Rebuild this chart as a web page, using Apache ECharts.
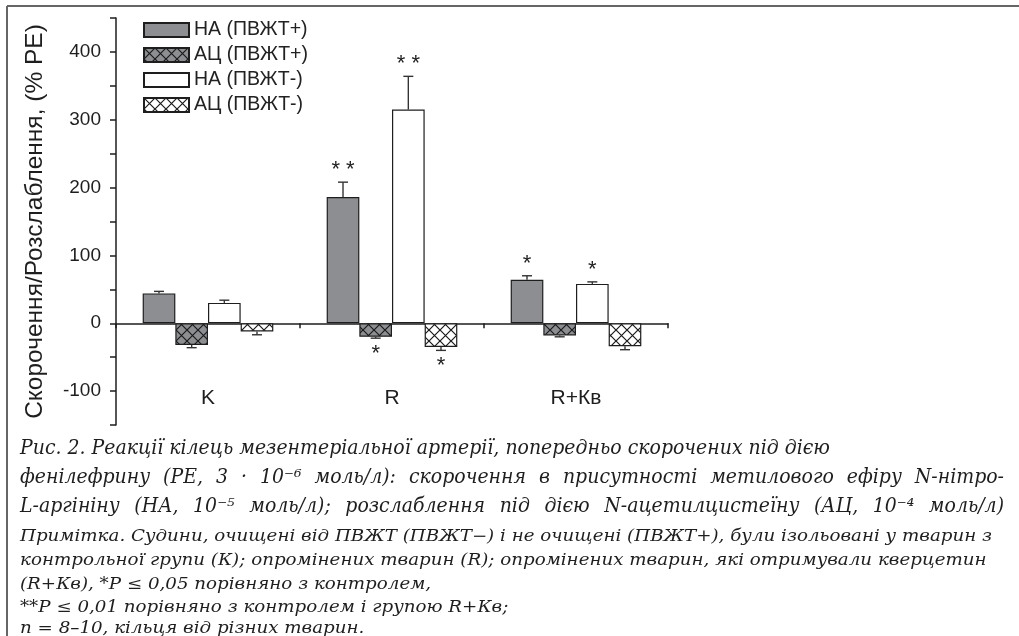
<!DOCTYPE html>
<html><head><meta charset="utf-8">
<script src="https://cdn.jsdelivr.net/npm/echarts@6/dist/echarts.min.js"></script>
<style>html,body{margin:0;padding:0;background:#fff}#c{width:1019px;height:636px}</style>
</head><body><div id="c"></div>
<script>
// ---- data ----
const categories = ['K', 'R', 'R+Кв'];
const seriesNames = ['НА (ПВЖТ+)', 'АЦ (ПВЖТ+)', 'НА (ПВЖТ-)', 'АЦ (ПВЖТ-)'];
const naPlus = [44, 186, 64];
const acPlus = [-32, -20, -18];
const naMinus = [30, 315, 58];
const acMinus = [-12, -35, -34];
const naPlusErr = [3, 22, 6];
const acPlusErr = [4, 2, 2];
const naMinusErr = [4, 49, 3];
const acMinusErr = [5, 5, 5];
const naPlusSig = ['', '**', '*'];
const acPlusSig = ['', '*', ''];
const naMinusSig = ['', '**', '*'];
const acMinusSig = ['', '*', ''];
const yTickLabels = [-100, 0, 100, 200, 300, 400];
const yAxisTitle = 'Скорочення/Розслаблення, (% PE)';
const captionMain = [
  'Рис. 2. Реакції кілець мезентеріальної артерії, попередньо скорочених під дією',
  'фенілефрину (PE, 3 · 10⁻⁶ моль/л): скорочення в присутності метилового ефіру N-нітро-',
  'L-аргініну (НА, 10⁻⁵ моль/л); розслаблення під дією N-ацетилцистеїну (АЦ, 10⁻⁴ моль/л)'
];
const captionNote = [
  'Примітка. Судини, очищені від ПВЖТ (ПВЖТ−) і не очищені (ПВЖТ+), були ізольовані у тварин з',
  'контрольної групи (К); опромінених тварин (R); опромінених тварин, які отримували кверцетин',
  '(R+Кв), *P ≤ 0,05 порівняно з контролем,',
  '**P ≤ 0,01 порівняно з контролем і групою R+Кв;',
  'n = 8–10, кільця від різних тварин.'
];

const values = [naPlus, acPlus, naMinus, acMinus];
const errs = [naPlusErr, acPlusErr, naMinusErr, acMinusErr];
const sigs = [naPlusSig, acPlusSig, naMinusSig, acMinusSig];

// ---- styles ----
const SANS = 'Liberation Sans';
const SERIF = 'DejaVu Serif';
const GAP = 0.29;
function hatch(bg) {
  const s = 11, c = document.createElement('canvas');
  c.width = c.height = s;
  const g = c.getContext('2d');
  g.fillStyle = bg; g.fillRect(0, 0, s, s);
  g.strokeStyle = '#1a1a1a'; g.lineWidth = 1.2;
  g.beginPath();
  g.moveTo(-1, -1); g.lineTo(s + 1, s + 1);
  g.moveTo(s + 1, -1); g.lineTo(-1, s + 1);
  g.stroke();
  return c;
}
const fills = [
  '#8d8e91',
  { image: hatch('#8d8e91'), repeat: 'repeat' },
  '#ffffff',
  { image: hatch('#ffffff'), repeat: 'repeat' }
];

const meas = document.createElement('canvas').getContext('2d');
function textW(text, size) {
  meas.font = 'italic ' + size + 'px "' + SERIF + '"';
  return meas.measureText(text).width;
}
const X0 = 20;
const mainSize = 19.5;
const mainScale = 810 / textW(captionMain[0], mainSize);
const noteSize = 15.8;
const noteScale = 972 / textW(captionNote[0], noteSize);

// caption line, horizontally condensed, optionally justified to a right edge
function captionLine(text, y, size, sx, justifyTo, out) {
  const font = 'italic ' + size + 'px "' + SERIF + '"';
  const mk = (t, x) => ({ type: 'text', x: x, y: y, scaleX: sx, scaleY: 1,
    style: { text: t, fill: '#1e1e1e', font: font, verticalAlign: 'middle' } });
  if (!justifyTo) { out.push(mk(text, X0)); return; }
  const words = text.split(' ');
  const widths = words.map(w => textW(w, size) * sx);
  const total = widths.reduce((a, b) => a + b, 0);
  const space = (justifyTo - X0 - total) / (words.length - 1);
  let x = X0;
  words.forEach((w, i) => { out.push(mk(w, x)); x += widths[i] + space; });
}

const chart = echarts.init(document.getElementById('c'), null, { renderer: 'canvas' });

const series = [];
values.forEach((vals, si) => {
  series.push({
    type: 'bar', name: seriesNames[si], xAxisIndex: 0,
    data: vals, barGap: '0%', barCategoryGap: (GAP * 100) + '%',
    itemStyle: { color: fills[si], borderColor: '#1e1e1e', borderWidth: 1.2 },
    emphasis: { disabled: true }, z: 2
  });
});
values.forEach((vals, si) => {
  series.push({
    type: 'custom', xAxisIndex: 0, z: 3, silent: true,
    data: vals.map((v, i) => [i, v, errs[si][i]]),
    renderItem: function (params, api) {
      const ci = api.value(0), v = api.value(1), e = api.value(2);
      const sig = sigs[si][params.dataIndex];
      const band = api.size([1, 0])[0];
      const bw = band * (1 - GAP) / 4;
      const x = api.coord([ci, 0])[0] + (si - 1.5) * bw;
      const dir = v >= 0 ? 1 : -1;
      const y0 = api.coord([ci, v])[1];
      const y1 = api.coord([ci, v + dir * e])[1];
      const cap = 5;
      const st = { stroke: '#333', lineWidth: 1.4 };
      const ch = [
        { type: 'line', shape: { x1: x, y1: y0, x2: x, y2: y1 }, style: st },
        { type: 'line', shape: { x1: x - cap, y1: y1, x2: x + cap, y2: y1 }, style: st }
      ];
      if (sig) {
        ch.push({
          type: 'text', x: x, y: dir > 0 ? y1 - 1 : y1 + 27,
          style: { text: sig.split('').join(' '), fill: '#222', font: '22px "' + SANS + '"', align: 'center', verticalAlign: 'bottom' }
        });
      }
      return { type: 'group', children: ch };
    }
  });
});

const graphic = [
  { type: 'line', shape: { x1: 7, y1: 6, x2: 1019, y2: 6 }, style: { stroke: '#666', lineWidth: 2 } },
  { type: 'line', shape: { x1: 7, y1: 6, x2: 7, y2: 636 }, style: { stroke: '#666', lineWidth: 2 } }
];
const mainY = [449, 478, 507];
captionMain.forEach((t, i) => captionLine(t, mainY[i], mainSize, mainScale, i === 0 ? 0 : 1004, graphic));
const noteY = [537, 561, 585, 608, 629];
captionNote.forEach((t, i) => captionLine(t, noteY[i], noteSize, noteScale, 0, graphic));

chart.setOption({
  animation: false,
  backgroundColor: '#fff',
  grid: { left: 116, top: 18, right: 351, bottom: 211, containLabel: false },
  legend: {
    data: seriesNames, orient: 'vertical', left: 138, top: 15,
    icon: 'rect', itemWidth: 45, itemHeight: 14, itemGap: 5,
    textStyle: { fontFamily: SANS, fontSize: 19.5, color: '#222' },
    selectedMode: false
  },
  xAxis: [
    {
      type: 'category', data: categories,
      axisLine: { onZero: true, lineStyle: { color: '#1e1e1e', width: 1.5 } },
      axisTick: { show: true, length: 5, lineStyle: { color: '#1e1e1e', width: 1.5 } },
      axisLabel: { show: false }, splitLine: { show: false }
    },
    {
      type: 'category', data: categories, position: 'bottom',
      axisLine: { show: false, onZero: false }, axisTick: { show: false },
      axisLabel: { inside: true, margin: 16, fontFamily: SANS, fontSize: 21, color: '#1e1e1e' },
      splitLine: { show: false }
    }
  ],
  yAxis: {
    type: 'value', min: -150, max: 450, interval: 50,
    name: yAxisTitle, nameLocation: 'middle', nameGap: 68, nameRotate: 90,
    nameTextStyle: { fontFamily: SANS, fontSize: 24.5, color: '#1e1e1e' },
    axisLine: { show: true, lineStyle: { color: '#1e1e1e', width: 1.5 } },
    axisTick: { show: true, length: 6, lineStyle: { color: '#1e1e1e', width: 1.5 } },
    axisLabel: {
      fontFamily: SANS, fontSize: 19, color: '#1e1e1e', margin: 15,
      formatter: v => yTickLabels.indexOf(v) >= 0 ? String(v) : ''
    },
    splitLine: { show: false }
  },
  series: series,
  graphic: graphic
});
</script></body></html>
